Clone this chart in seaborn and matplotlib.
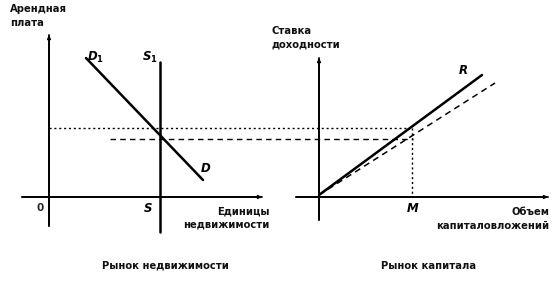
import matplotlib
matplotlib.use("Agg")
import matplotlib.pyplot as plt
import seaborn as sns
import numpy as np

sns.set_theme(style="white")
plt.rcParams['font.family'] = ['DejaVu Sans']
plt.rcParams['mathtext.fontset'] = 'custom'
plt.rcParams['mathtext.it'] = 'DejaVu Sans:italic:bold'
plt.rcParams['mathtext.rm'] = 'DejaVu Sans:bold'

# Diagram geometry (figure units, y measured downward)
left_yaxis_x = [49, 49];   left_yaxis_y = [226, 35]
left_xaxis_x = [22, 262];  left_xaxis_y = [197, 197]
right_yaxis_x = [319, 319]; right_yaxis_y = [220, 58]
right_xaxis_x = [296, 548]; right_xaxis_y = [197, 197]

supply_x = [160, 160];  supply_y = [62, 232]
demand_x = [86, 203];   demand_y = [58, 180]
rent_dotted_x = [49, 410];  rent_dotted_y = [128, 128]
rent_dashed_x = [110, 413]; rent_dashed_y = [139, 139]
return_x = [319, 482];  return_y = [195, 75]
return2_x = [319, 495]; return2_y = [195, 83]
m_dotted_x = [412, 412]; m_dotted_y = [128, 197]

fig = plt.figure(figsize=(5.54, 2.83), dpi=100)
ax = fig.add_axes([0, 0, 1, 1])
ax.set_xlim(0, 554)
ax.set_ylim(283, 0)
ax.axis('off')

def seg(x, y, lw, ls='-'):
    sns.lineplot(x=x, y=y, ax=ax, color='black', linewidth=lw, linestyle=ls,
                 sort=False, estimator=None)

# axes
for xs, ys in [(left_yaxis_x, left_yaxis_y), (left_xaxis_x, left_xaxis_y),
               (right_yaxis_x, right_yaxis_y), (right_xaxis_x, right_xaxis_y)]:
    seg(xs, ys, 1.3)
    ax.annotate('', xy=(xs[1], ys[1]), xytext=(xs[0], ys[0]),
                arrowprops=dict(arrowstyle='-|>', color='black', lw=1.1,
                                mutation_scale=5, shrinkA=0, shrinkB=0))

seg(supply_x, supply_y, 1.8)
seg(demand_x, demand_y, 1.8)
seg(return_x, return_y, 1.8)
seg(return2_x, return2_y, 1.1, (0, (4, 3)))
seg(rent_dotted_x, rent_dotted_y, 1.0, (0, (1.5, 2)))
seg(rent_dashed_x, rent_dashed_y, 1.0, (0, (4, 3)))
seg(m_dotted_x, m_dotted_y, 1.0, (0, (1.5, 2)))

tk = dict(fontsize=7.2, fontweight='bold', color='#111111')
ax.text(10, 4, 'Арендная\nплата', ha='left', va='top', linespacing=1.45, **tk)
ax.text(271, 26, 'Ставка\nдоходности', ha='left', va='top', linespacing=1.45, **tk)
ax.text(270, 218, 'Единицы\nнедвижимости', ha='right', va='center',
        multialignment='right', linespacing=1.45, **tk)
ax.text(549, 219, 'Объем\nкапиталовложений', ha='right', va='center',
        multialignment='right', linespacing=1.55, **tk)
ax.text(165, 266, 'Рынок недвижимости', ha='center', va='center', **tk)
ax.text(429, 266, 'Рынок капитала', ha='center', va='center', **tk)
ax.text(40, 208, '0', ha='center', va='center', fontsize=7.5, fontweight='bold')

lk = dict(fontsize=8.5, color='black', va='center', ha='center')
ax.text(96, 57, r'$D_1$', **lk)
ax.text(150, 57, r'$S_1$', **lk)
ax.text(206, 168, r'$D$', **lk)
ax.text(148, 208, r'$S$', **lk)
ax.text(413, 208, r'$M$', **lk)
ax.text(463, 71, r'$R$', **lk)

fig.savefig('out.png', dpi=100)
